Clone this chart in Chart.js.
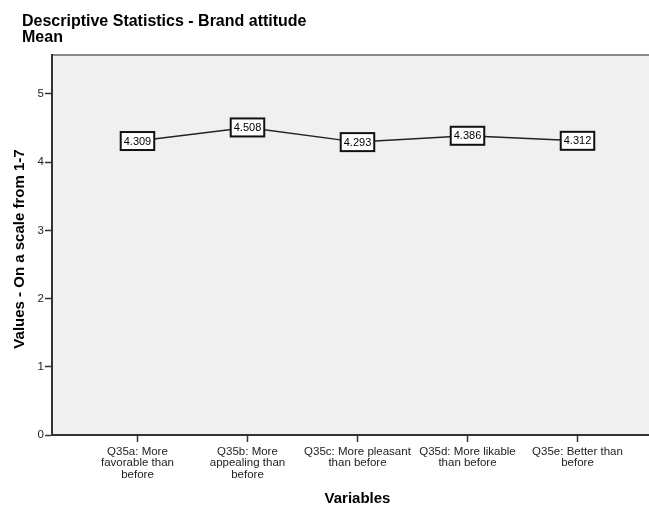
<!DOCTYPE html>
<html>
<head>
<meta charset="utf-8">
<script src="https://cdn.jsdelivr.net/npm/chart.js@4"></script>
<style>
  html, body { margin: 0; padding: 0; background: #fff; }
  #wrap { width: 649px; height: 506px; }
</style>
</head>
<body>
<div id="wrap"><canvas id="chart"></canvas></div>
<script>
const categories = [
    ['Q35a: More', 'favorable than', 'before'],
    ['Q35b: More', 'appealing than', 'before'],
    ['Q35c: More pleasant', 'than before'],
    ['Q35d: More likable', 'than before'],
    ['Q35e: Better than', 'before']
];
const means = [4.309, 4.508, 4.293, 4.386, 4.312];
const yTicks = [0, 1, 2, 3, 4, 5];

const titleLines = ['Descriptive Statistics - Brand attitude', 'Mean'];
const yTitle = 'Values - On a scale from 1-7';
const xTitle = 'Variables';

const fontFamily = '"Liberation Sans", Arial, sans-serif';
const axisColor = '#333';
const textColor = '#222';

// grey plot background + top frame line
const plotBg = {
    id: 'plotBg',
    beforeDraw(chart) {
        const { ctx, chartArea: a } = chart;
        ctx.save();
        ctx.fillStyle = '#f0f0f0';
        ctx.fillRect(a.left, a.top, a.right - a.left, a.bottom - a.top);
        ctx.strokeStyle = '#8a8a8a';
        ctx.lineWidth = 2;
        ctx.beginPath();
        ctx.moveTo(a.left, a.top);
        ctx.lineTo(a.right, a.top);
        ctx.stroke();
        ctx.restore();
    }
};

// boxed value labels on each point
const boxLabels = {
    id: 'boxLabels',
    afterDatasetsDraw(chart) {
        const { ctx } = chart;
        const meta = chart.getDatasetMeta(0);
        ctx.save();
        ctx.font = '11px ' + fontFamily;
        ctx.textAlign = 'center';
        ctx.textBaseline = 'middle';
        meta.data.forEach((pt, i) => {
            const txt = means[i].toFixed(3);
            const w = ctx.measureText(txt).width + 6;
            const h = 18;
            ctx.fillStyle = '#fff';
            ctx.fillRect(pt.x - w / 2, pt.y - h / 2, w, h);
            ctx.strokeStyle = '#111';
            ctx.lineWidth = 2;
            ctx.strokeRect(pt.x - w / 2, pt.y - h / 2, w, h);
            ctx.fillStyle = '#000';
            ctx.fillText(txt, pt.x, pt.y + 0.5);
        });
        ctx.restore();
    }
};

// chart title and axis titles
const titles = {
    id: 'titles',
    afterDraw(chart) {
        const { ctx } = chart;
        ctx.save();
        ctx.fillStyle = '#000';
        ctx.font = 'bold 16px ' + fontFamily;
        ctx.textAlign = 'left';
        ctx.textBaseline = 'alphabetic';
        ctx.fillText(titleLines[0], 22, 26);
        ctx.fillText(titleLines[1], 22, 42);

        ctx.font = 'bold 15px ' + fontFamily;
        ctx.textAlign = 'center';
        ctx.textBaseline = 'middle';
        const xs = chart.scales.x;
        ctx.fillText(xTitle, xs.getPixelForValue(2), 499);

        ctx.translate(20, 249);
        ctx.rotate(-Math.PI / 2);
        ctx.fillText(yTitle, 0, 0);
        ctx.restore();
    }
};

new Chart(document.getElementById('chart'), {
    type: 'line',
    data: {
        datasets: [{
            data: means.map((v, i) => ({ x: i, y: v })),
            borderColor: '#222',
            borderWidth: 1.5,
            pointRadius: 0,
            tension: 0,
            fill: false
        }]
    },
    options: {
        responsive: true,
        maintainAspectRatio: false,
        animation: false,
        layout: { padding: { top: 55, left: 0, right: 0, bottom: 0 } },
        plugins: {
            legend: { display: false },
            tooltip: { enabled: false }
        },
        scales: {
            x: {
                type: 'linear',
                min: -0.777,
                max: 4.65,
                afterBuildTicks: (s) => { s.ticks = categories.map((c, i) => ({ value: i })); },
                afterFit: (s) => { s.height = 71; },
                ticks: {
                    autoSkip: false,
                    maxRotation: 0,
                    padding: 4,
                    color: textColor,
                    font: { family: fontFamily, size: 11.5, lineHeight: 1.0 },
                    callback: (v) => categories[v] || ''
                },
                grid: { drawOnChartArea: false, tickLength: 7, color: axisColor, tickWidth: 1.5 },
                border: { display: true, color: axisColor, width: 2 }
            },
            y: {
                min: 0,
                max: 5.57,
                afterBuildTicks: (s) => { s.ticks = yTicks.map(v => ({ value: v })); },
                afterFit: (s) => { s.width = 52; },
                ticks: {
                    padding: 1,
                    color: textColor,
                    font: { family: fontFamily, size: 11.5 }
                },
                grid: { drawOnChartArea: false, tickLength: 7, color: axisColor, tickWidth: 1.5 },
                border: { display: true, color: axisColor, width: 2 }
            }
        }
    },
    plugins: [plotBg, boxLabels, titles]
});
</script>
</body>
</html>
